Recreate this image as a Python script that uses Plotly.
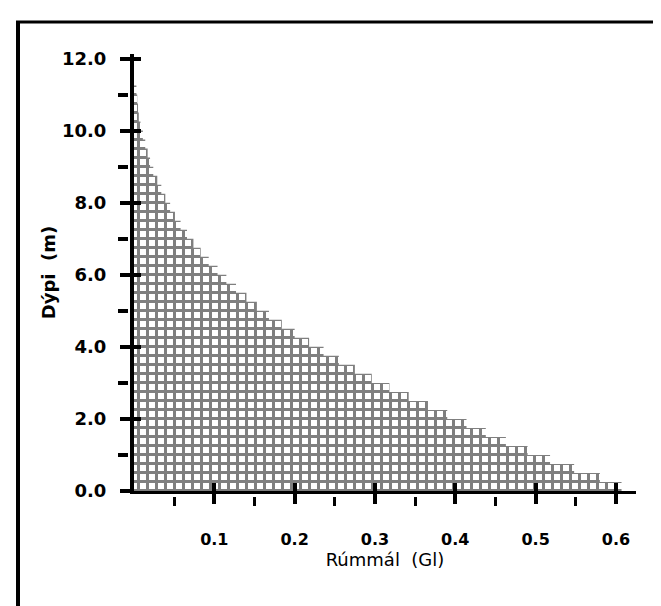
import plotly.graph_objects as go

# ---- data ----
depth_m = [0.00, 0.25, 0.50, 0.75, 1.00, 1.25, 1.50, 1.75, 2.00, 2.25,
           2.50, 2.75, 3.00, 3.25, 3.50, 3.75, 4.00, 4.25, 4.50, 4.75,
           5.00, 5.25, 5.50, 5.75, 6.00, 6.25, 6.50, 6.75, 7.00, 7.25,
           7.50, 7.75, 8.00, 8.25, 8.50, 8.75, 9.00, 9.25, 9.50, 9.75,
           10.00, 10.25, 10.50, 10.75, 11.00, 11.25]
volume_gl = [0.607, 0.580, 0.548, 0.518, 0.490, 0.463, 0.438, 0.414, 0.390, 0.366,
             0.342, 0.318, 0.296, 0.275, 0.255, 0.236, 0.218, 0.200, 0.184, 0.168,
             0.153, 0.140, 0.127, 0.115, 0.104, 0.093, 0.083, 0.074, 0.066, 0.058,
             0.051, 0.045, 0.039, 0.034, 0.029, 0.024, 0.020, 0.017, 0.014, 0.011,
             0.008, 0.006, 0.005, 0.004, 0.003, 0.000]

x_major = [0.1, 0.2, 0.3, 0.4, 0.5, 0.6]
x_major_labels = ["0.1", "0.2", "0.3", "0.4", "0.5", "0.6"]
x_minor = [0.05, 0.15, 0.25, 0.35, 0.45, 0.55]
y_major = [0, 2, 4, 6, 8, 10, 12]
y_major_labels = ["0.0", "2.0", "4.0", "6.0", "8.0", "10.0", "12.0"]
y_minor = [1, 3, 5, 7, 9, 11]

x_title = "Rúmmál  (Gl)"
y_title = "Dýpi  (m)"

# ---- layout geometry (pixels) ----
W, H = 661, 606
L, R, T, B = 120, 33, 46, 118
PW, PH = W - L - R, H - T - B
X_RANGE = [0, 0.625]
Y_RANGE = [0, 12.125]

def px_x(p):
    return (p - L) / PW

def px_y(p):
    return (H - B - p) / PH

FONT = "DejaVu Sans"

fig = go.Figure()
fig.add_trace(go.Scatter(
    x=volume_gl, y=depth_m, mode="lines",
    line=dict(width=0, shape="vh", color="black"),
    fill="tozerox", fillcolor="white",
    fillpattern=dict(shape="+", size=9, solidity=0.5556,
                     fgcolor="black", bgcolor="white"),
    hoverinfo="skip", showlegend=False,
))
# helper traces so that overlay axes are drawn
for xa, ya in [("x2", "y"), ("x3", "y"), ("x", "y2"), ("x", "y3")]:
    fig.add_trace(go.Scatter(x=[None], y=[None], xaxis=xa, yaxis=ya,
                             showlegend=False, hoverinfo="skip"))

common = dict(showgrid=False, zeroline=False, tickcolor="black")

fig.update_layout(
    width=W, height=H,
    margin=dict(l=L, r=R, t=T, b=B, autoexpand=False),
    paper_bgcolor="white", plot_bgcolor="white",
    showlegend=False,
    xaxis=dict(domain=[6 / PW, 1], range=X_RANGE, anchor="y",
               showline=True, linecolor="black", linewidth=3,
               tickmode="array", tickvals=x_major, ticktext=x_major_labels,
               ticks="outside", ticklen=10, tickwidth=4,
               ticklabelstandoff=22,
               tickfont=dict(family=FONT, size=16, color="black", weight="bold"),
               title=dict(text=x_title, standoff=4,
                          font=dict(family=FONT, size=18, color="black")),
               **common),
    xaxis2=dict(overlaying="x", anchor="y", range=X_RANGE, side="bottom",
                tickmode="array", tickvals=x_major, ticks="inside",
                ticklen=8, tickwidth=4, showticklabels=False, showline=False,
                **common),
    xaxis3=dict(overlaying="x", anchor="free", position=0, range=X_RANGE,
                side="bottom", tickmode="array", tickvals=x_minor,
                ticks="outside", ticklen=9, tickwidth=3,
                showticklabels=False, showline=False, **common),
    yaxis=dict(domain=[5 / PH, 1], range=Y_RANGE, anchor="x",
               showline=True, linecolor="black", linewidth=4,
               tickmode="array", tickvals=y_major, ticktext=y_major_labels,
               ticks="outside", ticklen=10, tickwidth=4,
               ticklabelstandoff=10,
               tickfont=dict(family=FONT, size=18, color="black", weight="bold"),
               title=dict(text=y_title, standoff=3,
                          font=dict(family=FONT, size=18, color="black",
                                    weight="bold")),
               **common),
    yaxis2=dict(overlaying="y", anchor="x", range=Y_RANGE, side="left",
                tickmode="array", tickvals=y_major, ticks="inside",
                ticklen=7, tickwidth=4, showticklabels=False, showline=False,
                **common),
    yaxis3=dict(overlaying="y", anchor="free", position=0, range=Y_RANGE,
                side="left", tickmode="array", tickvals=y_minor,
                ticks="outside", ticklen=10, tickwidth=4,
                showticklabels=False, showline=False, **common),
    shapes=[
        dict(type="line", xref="paper", yref="paper",
             x0=px_x(8), x1=px_x(661), y0=px_y(14), y1=px_y(14),
             line=dict(color="black", width=3)),
        dict(type="line", xref="paper", yref="paper",
             x0=px_x(10), x1=px_x(10), y0=px_y(13), y1=px_y(606),
             line=dict(color="black", width=4)),
        dict(type="line", xref="paper", yref="paper",
             x0=px_x(325), x1=px_x(655), y0=px_y(603), y1=px_y(603),
             line=dict(color="#777777", width=2)),
        dict(type="line", xref="paper", yref="paper",
             x0=px_x(657), x1=px_x(657), y0=px_y(240), y1=px_y(345),
             line=dict(color="#bbbbbb", width=1)),
    ],
)

fig.write_html("out.html")
